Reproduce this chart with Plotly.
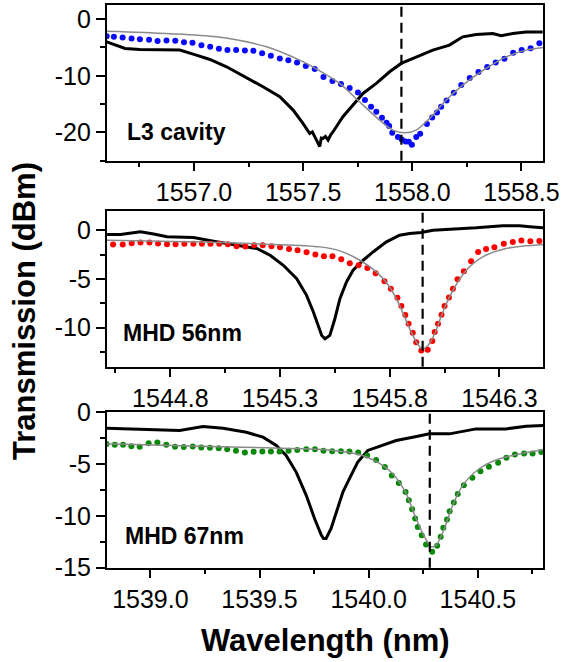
import plotly.graph_objects as go

# ---------------- L3 cavity ----------------
l3_trace_wl = [1556.600, 1556.620, 1556.684, 1556.752, 1556.874, 1556.935, 1556.996, 1557.073,
               1557.149, 1557.240, 1557.316, 1557.393, 1557.454, 1557.499, 1557.520, 1557.530,
               1557.542, 1557.553, 1557.565, 1557.576, 1557.583, 1557.591, 1557.602, 1557.614,
               1557.625, 1557.637, 1557.682, 1557.728, 1557.774, 1557.835, 1557.896, 1557.949,
               1558.018, 1558.094, 1558.170, 1558.231, 1558.293, 1558.369, 1558.407, 1558.460,
               1558.521, 1558.597]
l3_trace_db = [-4.00, -4.29, -5.18, -5.35, -5.47, -5.47, -6.18, -7.12,
               -8.41, -10.29, -11.94, -13.71, -16.06, -18.41, -19.60, -20.20,
               -19.90, -20.80, -21.50, -22.50, -21.00, -21.06, -20.70, -21.35,
               -20.50, -19.88, -17.24, -15.18, -13.12, -11.35, -9.29, -7.82,
               -6.65, -5.47, -4.59, -3.12, -2.71, -2.53, -2.94, -2.53,
               -2.29, -2.29]

l3_dots_wl = [1556.600, 1556.633, 1556.673, 1556.714, 1556.752, 1556.794, 1556.833, 1556.874,
              1556.914, 1556.954, 1556.993, 1557.034, 1557.074, 1557.114, 1557.153, 1557.193,
              1557.233, 1557.272, 1557.312, 1557.352, 1557.393, 1557.432, 1557.472, 1557.512,
              1557.553, 1557.593, 1557.634, 1557.673, 1557.713, 1557.751, 1557.783, 1557.811,
              1557.835, 1557.861, 1557.882, 1557.894, 1557.908, 1557.934, 1557.952, 1557.969,
              1557.984, 1557.998, 1558.018, 1558.036, 1558.067, 1558.091, 1558.113, 1558.132,
              1558.157, 1558.190, 1558.224, 1558.263, 1558.303, 1558.343, 1558.382, 1558.422,
              1558.462, 1558.501, 1558.542, 1558.582]
l3_dots_db = [-3.00, -3.12, -3.24, -3.41, -3.53, -3.65, -3.88, -3.76,
              -3.82, -4.06, -4.18, -4.59, -4.88, -5.24, -5.47, -5.47,
              -5.53, -5.59, -6.00, -6.47, -6.94, -7.24, -7.65, -8.29,
              -8.82, -10.20, -10.94, -11.47, -12.18, -12.94, -14.29, -15.47,
              -16.35, -17.41, -18.29, -18.88, -20.06, -20.82, -21.24, -21.59,
              -21.65, -22.18, -20.82, -20.24, -18.53, -17.35, -16.47, -15.47,
              -14.35, -13.00, -11.65, -10.41, -9.35, -8.47, -7.65, -7.00,
              -5.94, -5.47, -5.12, -4.24]

l3_fit_wl = [1556.600, 1556.874, 1557.103, 1557.332, 1557.484, 1557.576, 1557.667, 1557.758,
             1557.850, 1557.911, 1557.965, 1558.018, 1558.079, 1558.155, 1558.231, 1558.338,
             1558.430, 1558.521, 1558.600]
l3_fit_db = [-2.12, -2.53, -3.12, -4.88, -7.24, -9.12, -11.35, -14.59,
             -17.82, -19.59, -20.06, -19.59, -17.53, -14.29, -11.65, -8.71,
             -6.65, -5.47, -5.00]

l3_marker_wl = 1557.95

# ---------------- MHD 56 nm ----------------
m56_trace_wl = [1544.512, 1544.573, 1544.664, 1544.724, 1544.785, 1544.906, 1544.997, 1545.058,
                1545.133, 1545.194, 1545.255, 1545.315, 1545.376, 1545.421, 1545.452, 1545.474,
                1545.490, 1545.505, 1545.527, 1545.550, 1545.573, 1545.603, 1545.633, 1545.679,
                1545.724, 1545.785, 1545.845, 1545.891, 1545.944, 1545.997, 1546.088, 1546.194,
                1546.315, 1546.391, 1546.452, 1546.500]
m56_trace_db = [-0.44, -0.44, -0.17, -0.38, -0.68, -0.75, -1.13, -1.37,
                -1.71, -1.88, -2.57, -3.60, -4.97, -6.68, -8.39, -9.93,
                -10.80, -11.13, -10.79, -9.08, -7.02, -5.31, -4.11, -3.08,
                -2.23, -1.20, -0.51, -0.34, -0.24, 0.00, 0.10, 0.24,
                0.45, 0.45, 0.34, 0.24]

m56_dots_wl = [1544.539, 1544.583, 1544.624, 1544.664, 1544.705, 1544.744, 1544.785, 1544.824,
               1544.864, 1544.905, 1544.944, 1544.983, 1545.023, 1545.062, 1545.102, 1545.142,
               1545.182, 1545.221, 1545.261, 1545.300, 1545.341, 1545.380, 1545.421, 1545.461,
               1545.500, 1545.539, 1545.579, 1545.618, 1545.658, 1545.698, 1545.736, 1545.776,
               1545.805, 1545.835, 1545.853, 1545.871, 1545.886, 1545.905, 1545.921, 1545.944,
               1545.973, 1545.994, 1546.005, 1546.020, 1546.036, 1546.050, 1546.070, 1546.088,
               1546.109, 1546.138, 1546.171, 1546.203, 1546.239, 1546.277, 1546.320, 1546.361,
               1546.400, 1546.441, 1546.482]
m56_dots_db = [-1.47, -1.47, -1.34, -1.27, -1.27, -1.37, -1.44, -1.44,
               -1.40, -1.40, -1.40, -1.40, -1.40, -1.44, -1.64, -1.68,
               -1.54, -1.54, -1.64, -1.75, -1.92, -2.06, -2.26, -2.50,
               -2.67, -2.67, -2.98, -3.39, -3.60, -3.87, -4.42, -5.24,
               -6.00, -6.92, -7.78, -8.70, -9.59, -10.52, -11.48, -12.33,
               -12.26, -11.37, -10.45, -9.59, -8.67, -7.78, -6.89, -6.00,
               -5.04, -4.21, -3.19, -2.23, -1.92, -1.75, -1.40, -1.20,
               -1.06, -1.13, -1.10]

m56_fit_wl = [1544.510, 1544.936, 1545.239, 1545.482, 1545.573, 1545.664, 1545.739, 1545.800,
              1545.845, 1545.891, 1545.929, 1545.949, 1545.974, 1546.005, 1546.042, 1546.088,
              1546.149, 1546.224, 1546.330, 1546.500]
m56_fit_db = [-1.03, -1.20, -1.44, -1.71, -2.12, -3.08, -4.28, -5.82,
              -7.71, -10.10, -11.75, -12.16, -11.82, -10.62, -8.39, -6.17,
              -4.11, -2.74, -1.88, -1.47]

m56_marker_wl = 1545.95

# ---------------- MHD 67 nm ----------------
m67_trace_wl = [1538.800, 1538.920, 1539.134, 1539.241, 1539.333, 1539.440, 1539.516, 1539.577,
                1539.622, 1539.668, 1539.714, 1539.752, 1539.783, 1539.793, 1539.805, 1539.828,
                1539.851, 1539.882, 1539.912, 1539.950, 1539.996, 1540.050, 1540.126, 1540.202,
                1540.279, 1540.370, 1540.431, 1540.492, 1540.629, 1540.721, 1540.800]
m67_trace_db = [-1.54, -1.60, -1.76, -1.38, -1.54, -1.92, -2.40, -3.20,
                -4.16, -5.77, -8.01, -10.25, -11.86, -12.18, -12.18, -11.22,
                -9.62, -7.69, -6.41, -4.80, -3.68, -3.27, -2.72, -2.40,
                -2.08, -2.08, -1.86, -1.60, -1.60, -1.35, -1.28]

m67_dots_wl = [1538.799, 1538.837, 1538.875, 1538.913, 1538.951, 1538.992, 1539.032, 1539.073,
               1539.113, 1539.153, 1539.194, 1539.233, 1539.273, 1539.313, 1539.352, 1539.392,
               1539.433, 1539.473, 1539.513, 1539.552, 1539.592, 1539.633, 1539.673, 1539.714,
               1539.754, 1539.793, 1539.833, 1539.873, 1539.912, 1539.952, 1539.993, 1540.034,
               1540.074, 1540.106, 1540.138, 1540.169, 1540.184, 1540.199, 1540.213, 1540.225,
               1540.243, 1540.263, 1540.291, 1540.314, 1540.330, 1540.342, 1540.359, 1540.371,
               1540.390, 1540.408, 1540.436, 1540.475, 1540.512, 1540.551, 1540.593, 1540.631,
               1540.670, 1540.712, 1540.751, 1540.791]
m67_dots_db = [-3.07, -3.14, -3.14, -3.27, -3.33, -2.98, -2.91, -3.14,
               -3.33, -3.36, -3.30, -3.39, -3.43, -3.46, -3.56, -3.72,
               -3.88, -3.81, -3.78, -3.78, -3.78, -3.72, -3.65, -3.56,
               -3.56, -3.72, -3.75, -3.75, -3.78, -3.88, -4.16, -4.61,
               -5.29, -6.09, -6.82, -7.69, -8.49, -9.36, -10.25, -11.06,
               -11.86, -12.76, -13.46, -12.88, -12.02, -11.15, -10.35, -9.55,
               -8.71, -7.88, -7.05, -6.31, -5.70, -5.25, -4.87, -4.39,
               -4.07, -3.97, -3.97, -3.84]

m67_fit_wl = [1538.800, 1539.226, 1539.531, 1539.793, 1539.867, 1539.958, 1540.034, 1540.110,
              1540.172, 1540.217, 1540.260, 1540.286, 1540.309, 1540.347, 1540.385, 1540.431,
              1540.507, 1540.599, 1540.800]
m67_fit_db = [-3.04, -3.27, -3.43, -3.59, -3.75, -4.07, -4.74, -5.93,
              -7.85, -10.25, -12.18, -12.98, -12.82, -11.22, -8.97, -7.05,
              -5.45, -4.49, -3.59]

m67_marker_wl = 1540.28

# ---------------- panel labels and axes ----------------
panel_names = ["L3 cavity", "MHD 56nm", "MHD 67nm"]
x_ranges = [[1556.6, 1558.6], [1544.51, 1546.5], [1538.8, 1540.8]]
x_tick0 = [1557.0, 1544.8, 1539.0]
y_ranges = [[-25, 2.5], [-14, 2], [-15, 0]]
y_tickvals = [[0, -10, -20], [0, -5, -10], [0, -5, -10, -15]]
y_ticktext = [["0", "-10", "-20"], ["0", "-5", "-10"], ["0", "-5", "-10", "-15"]]
y_minor_step = [5, 2.5, 2.5]
dot_colors = ["#0a0aff", "#ff0000", "#0a880a"]

panels = [
    (l3_trace_wl, l3_trace_db, l3_dots_wl, l3_dots_db, l3_fit_wl, l3_fit_db, l3_marker_wl),
    (m56_trace_wl, m56_trace_db, m56_dots_wl, m56_dots_db, m56_fit_wl, m56_fit_db, m56_marker_wl),
    (m67_trace_wl, m67_trace_db, m67_dots_wl, m67_dots_db, m67_fit_wl, m67_fit_db, m67_marker_wl),
]

W, H = 562, 662
FONT = "Liberation Sans"
left_px, right_px = 106.7, 543.3
rows_px = [(5, 160.7), (210.7, 366.7), (412.3, 567.7)]

def px_x(v):
    return v / W

def px_y(v):
    return 1 - v / H

fig = go.Figure()
layout = dict(
    width=W, height=H, autosize=False,
    margin=dict(l=0, r=0, t=0, b=0, pad=0, autoexpand=False),
    paper_bgcolor="white", plot_bgcolor="white",
    showlegend=False,
    font=dict(family=FONT, color="black"),
)

shapes = []
annotations = []
xdom = [px_x(left_px), px_x(right_px)]

for i, (tw, td, dw, dd, fw, fd, mk) in enumerate(panels):
    n = i + 1
    xa = "x" if n == 1 else f"x{n}"
    ya = "y" if n == 1 else f"y{n}"
    ydom = [px_y(rows_px[i][1]), px_y(rows_px[i][0])]

    fig.add_trace(go.Scatter(x=tw, y=td, mode="lines", xaxis=xa, yaxis=ya,
                             line=dict(color="black", width=3)))
    fig.add_trace(go.Scatter(x=dw, y=dd, mode="markers", xaxis=xa, yaxis=ya,
                             marker=dict(color=dot_colors[i], size=6, line=dict(width=0))))
    fig.add_trace(go.Scatter(x=fw, y=fd, mode="lines", xaxis=xa, yaxis=ya,
                             line=dict(color="#8a8a8a", width=1.5, shape="spline", smoothing=0.8)))

    tickfont = dict(family=FONT, size=25, color="black")
    major = dict(ticklen=9, tickwidth=1.5, tickcolor="black")
    xminor = dict(tick0=x_tick0[i], dtick=0.25, ticklen=5, tickwidth=1.5, tickcolor="black")
    yminor = dict(tickmode="linear", tick0=0, dtick=y_minor_step[i], ticklen=5,
                  tickwidth=1.5, tickcolor="black")

    # bottom / left axes with outward ticks and labels
    layout[f"xaxis{'' if n == 1 else n}"] = dict(
        domain=xdom, range=x_ranges[i], anchor=ya, automargin=False,
        showline=True, linecolor="black", linewidth=1.5, mirror=True,
        ticks="outside", tick0=x_tick0[i], dtick=0.5, tickformat=".1f",
        minor=dict(ticks="outside", **xminor), tickfont=tickfont,
        showgrid=False, zeroline=False, **major)
    layout[f"yaxis{'' if n == 1 else n}"] = dict(
        domain=ydom, range=y_ranges[i], anchor=xa, automargin=False,
        showline=True, linecolor="black", linewidth=1.5, mirror=True,
        ticks="outside", tickmode="array", tickvals=y_tickvals[i], ticktext=y_ticktext[i],
        minor=dict(ticks="outside", **yminor), tickfont=tickfont, ticklabelstandoff=0,
        showgrid=False, zeroline=False, **major)

    # top / right axes carrying inward ticks only
    layout[f"xaxis{n + 3}"] = dict(
        overlaying=xa, side="top", anchor=ya, range=x_ranges[i], automargin=False,
        ticks="inside", tick0=x_tick0[i], dtick=0.5, showticklabels=False,
        minor=dict(ticks="inside", **xminor),
        showgrid=False, zeroline=False, showline=False, **major)
    layout[f"yaxis{n + 3}"] = dict(
        overlaying=ya, side="right", anchor=xa, range=y_ranges[i], automargin=False,
        ticks="inside", tickmode="array", tickvals=y_tickvals[i], showticklabels=False,
        minor=dict(ticks="inside", **yminor),
        showgrid=False, zeroline=False, showline=False, **major)

    # resonance marker
    shapes.append(dict(type="line", xref=xa, yref=f"{ya} domain", x0=mk, x1=mk, y0=0, y1=1,
                       line=dict(color="black", width=2.2, dash="10px,6px")))

label_pos = [(125, 132), (120.7, 333), (122.7, 536)]
for name, (lx, ly) in zip(panel_names, label_pos):
    annotations.append(dict(text=name, xref="paper", yref="paper", x=px_x(lx), y=px_y(ly),
                            xanchor="left", yanchor="middle", showarrow=False,
                            font=dict(family=FONT, size=23, color="black", weight="bold")))

annotations.append(dict(text="Transmission (dBm)", xref="paper", yref="paper",
                        x=px_x(24), y=px_y(311), textangle=-90, showarrow=False,
                        xanchor="center", yanchor="middle",
                        font=dict(family=FONT, size=31, color="black", weight="bold")))
annotations.append(dict(text="Wavelength (nm)", xref="paper", yref="paper",
                        x=px_x(325), y=px_y(640), showarrow=False,
                        xanchor="center", yanchor="middle",
                        font=dict(family=FONT, size=31, color="black", weight="bold")))

layout["shapes"] = shapes
layout["annotations"] = annotations
fig.update_layout(**layout)
fig.write_html("out.html")
